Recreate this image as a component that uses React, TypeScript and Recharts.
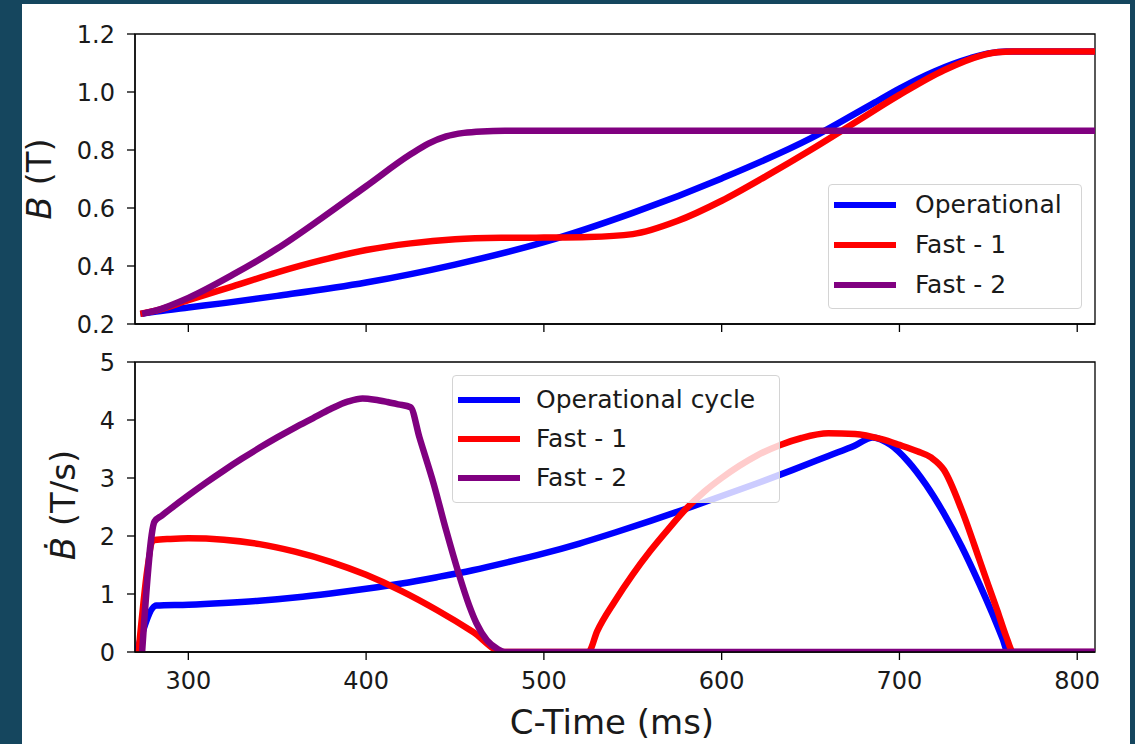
import React from "react";
import { LineChart, Line, XAxis, YAxis, ReferenceArea, Legend } from "recharts";

const FONT = "DejaVu Sans";
const INK = "#1a1a1a";
const COLORS = ["#0000ff", "#ff0000", "#800080"];

const TIME_TICKS = [300, 400, 500, 600, 700, 800];
const B_TICKS = [0.2, 0.4, 0.6, 0.8, 1.0, 1.2];
const BDOT_TICKS = [0, 1, 2, 3, 4, 5];

const TOP_NAMES = ["Operational", "Fast - 1", "Fast - 2"];
const BOTTOM_NAMES = ["Operational cycle", "Fast - 1", "Fast - 2"];

// field B (T) vs C-time (ms)
const OP_B_T = [273, 282, 300, 320, 350, 400, 450, 500, 550, 600, 650, 685, 700, 720, 740, 750, 760, 810];
const OP_B = [0.235, 0.243, 0.257, 0.272, 0.297, 0.343, 0.405, 0.482, 0.583, 0.702, 0.84, 0.96, 1.012, 1.072, 1.117, 1.133, 1.14, 1.14];

const F1_B_T = [273, 281, 300, 325, 350, 375, 400, 425, 450, 476, 500, 525, 550, 575, 600, 625, 650, 675, 700, 725, 745, 755, 764, 810];
const F1_B = [0.235, 0.245, 0.282, 0.33, 0.378, 0.42, 0.455, 0.478, 0.492, 0.497, 0.498, 0.5, 0.51, 0.555, 0.625, 0.71, 0.8, 0.895, 0.99, 1.075, 1.124, 1.137, 1.14, 1.14];

const F2_B_T = [274, 281, 300, 325, 350, 375, 400, 425, 435, 445, 455, 465, 478, 810];
const F2_B = [0.235, 0.245, 0.29, 0.37, 0.46, 0.565, 0.675, 0.785, 0.822, 0.847, 0.859, 0.864, 0.866, 0.866];

// ramp rate dB/dt (T/s)
const OP_D_T = [271, 282, 300, 320, 340, 360, 380, 400, 420, 440, 460, 480, 500, 520, 540, 560, 580, 600, 620, 640, 660, 675, 685, 695, 705, 715, 725, 735, 745, 752, 758, 761, 810];
const OP_D = [0, 0.8, 0.815, 0.845, 0.885, 0.94, 1.01, 1.09, 1.18, 1.29, 1.41, 1.55, 1.7, 1.87, 2.06, 2.26, 2.47, 2.69, 2.91, 3.14, 3.38, 3.56, 3.7, 3.57, 3.28, 2.88, 2.39, 1.82, 1.17, 0.68, 0.23, 0, 0];

const F1_D_T = [272, 281, 290, 300, 320, 340, 360, 380, 400, 420, 440, 460, 477, 525, 530, 540, 550, 560, 570, 580, 590, 600, 610, 620, 633, 645, 660, 675, 690, 700, 710, 718, 725, 735, 745, 750, 755, 760, 764, 810];
const F1_D = [0, 1.93, 1.95, 1.96, 1.935, 1.86, 1.73, 1.555, 1.33, 1.05, 0.72, 0.35, 0, 0, 0.36, 0.88, 1.34, 1.75, 2.12, 2.47, 2.76, 3.0, 3.21, 3.39, 3.57, 3.69, 3.77, 3.76, 3.67, 3.57, 3.46, 3.35, 3.14, 2.45, 1.59, 1.15, 0.72, 0.27, 0, 0];

const F2_D_T = [274, 281, 285, 290, 300, 310, 320, 330, 340, 350, 360, 370, 380, 390, 398, 405, 412, 418, 425, 430, 438, 445, 452, 458, 462, 468, 474, 478, 810];
const F2_D = [0, 2.25, 2.35, 2.47, 2.7, 2.92, 3.13, 3.33, 3.52, 3.7, 3.87, 4.03, 4.19, 4.32, 4.37, 4.35, 4.31, 4.27, 4.22, 3.7, 2.9, 2.1, 1.36, 0.8, 0.5, 0.2, 0.05, 0, 0];

const zip = (t: number[], v: number[]) => t.map((x, i) => ({ t: x, v: v[i] }));

const TOP_SERIES = [zip(OP_B_T, OP_B), zip(F1_B_T, F1_B), zip(F2_B_T, F2_B)];
const BOTTOM_SERIES = [zip(OP_D_T, OP_D), zip(F1_D_T, F1_D), zip(F2_D_T, F2_D)];

const axisStroke = { stroke: "#000", strokeWidth: 1.3 };
const tickStyle = { fill: INK, fontSize: 24, fontFamily: FONT };

function LegendBox({ names, width, height, firstRow, rowGap, textX }: any) {
  return (
    <div
      style={{
        position: "relative",
        width,
        height,
        boxSizing: "border-box",
        border: "1px solid #d4d4d4",
        borderRadius: 4,
        background: "rgba(255,255,255,0.8)",
        fontFamily: FONT,
        fontSize: 25,
        color: INK,
      }}
    >
      {names.map((n: string, i: number) => (
        <div key={n} style={{ position: "absolute", left: 0, top: firstRow + i * rowGap - 21, height: 40, width: "100%" }}>
          <div style={{ position: "absolute", left: 5, top: 17, width: 62, height: 6, background: COLORS[i] }} />
          <span style={{ position: "absolute", left: textX, top: 0, lineHeight: "40px", whiteSpace: "nowrap" }}>{n}</span>
        </div>
      ))}
    </div>
  );
}

export default function App() {
  return (
    <div style={{ position: "absolute", left: 0, top: 0, width: 1135, height: 744, background: "#15465e", overflow: "hidden" }}>
      <div style={{ position: "absolute", left: 22, top: 4, width: 1108, height: 740, background: "#fff" }} />

      <div style={{ position: "absolute", left: 0, top: 0 }}>
        <LineChart width={1135} height={346} margin={{ top: 34, right: 40, left: 0, bottom: 0 }} style={{ fontFamily: FONT }}>
          <XAxis
            dataKey="t"
            type="number"
            domain={[270, 810]}
            allowDataOverflow
            ticks={TIME_TICKS}
            interval={0}
            tick={() => <g />}
            tickSize={8}
            height={22}
            axisLine={axisStroke}
            tickLine={axisStroke}
          />
          <YAxis
            type="number"
            domain={[0.2, 1.2]}
            allowDataOverflow
            ticks={B_TICKS}
            interval={0}
            tickFormatter={(v: number) => v.toFixed(1)}
            width={135}
            tickSize={8}
            tickMargin={12}
            tick={tickStyle}
            axisLine={axisStroke}
            tickLine={axisStroke}
          />
          {TOP_SERIES.map((d, i) => (
            <Line
              key={TOP_NAMES[i]}
              data={d}
              dataKey="v"
              name={TOP_NAMES[i]}
              type="monotone"
              stroke={COLORS[i]}
              strokeWidth={6.5}
              dot={false}
              isAnimationActive={false}
            />
          ))}
          <ReferenceArea x1={270} x2={810} y1={0.2} y2={1.2} fill="none" stroke="#000" strokeWidth={1.3} />
          <Legend
            layout="horizontal"
            verticalAlign="middle"
            align="center"
            wrapperStyle={{ left: 828, top: 184, width: 254, height: 125 }}
            content={() => <LegendBox names={TOP_NAMES} width={254} height={125} firstRow={21} rowGap={40} textX={86} />}
          />
        </LineChart>
      </div>

      <div style={{ position: "absolute", left: 0, top: 340 }}>
        <LineChart width={1135} height={362} margin={{ top: 22, right: 40, left: 0, bottom: 0 }} style={{ fontFamily: FONT }}>
          <XAxis
            dataKey="t"
            type="number"
            domain={[270, 810]}
            allowDataOverflow
            ticks={TIME_TICKS}
            interval={0}
            tickSize={8}
            tickMargin={12}
            height={50}
            tick={tickStyle}
            axisLine={axisStroke}
            tickLine={axisStroke}
          />
          <YAxis
            type="number"
            domain={[0, 5]}
            allowDataOverflow
            ticks={BDOT_TICKS}
            interval={0}
            width={135}
            tickSize={8}
            tickMargin={12}
            tick={tickStyle}
            axisLine={axisStroke}
            tickLine={axisStroke}
          />
          {BOTTOM_SERIES.map((d, i) => (
            <Line
              key={BOTTOM_NAMES[i]}
              data={d}
              dataKey="v"
              name={BOTTOM_NAMES[i]}
              type="monotone"
              stroke={COLORS[i]}
              strokeWidth={6.5}
              dot={false}
              isAnimationActive={false}
            />
          ))}
          <ReferenceArea x1={270} x2={810} y1={0} y2={5} fill="none" stroke="#000" strokeWidth={1.3} />
          <Legend
            layout="horizontal"
            verticalAlign="middle"
            align="center"
            wrapperStyle={{ left: 452, top: 35, width: 328, height: 128 }}
            content={() => <LegendBox names={BOTTOM_NAMES} width={328} height={128} firstRow={25} rowGap={39} textX={83} />}
          />
        </LineChart>
      </div>

      <svg width={1135} height={744} style={{ position: "absolute", left: 0, top: 0, pointerEvents: "none" }} fontFamily={FONT}>
        <text x={612} y={734} textAnchor="middle" fontSize={34} fill={INK}>
          C-Time (ms)
        </text>
        <text transform="translate(51,179) rotate(-90)" textAnchor="middle" fontSize={34} fill={INK}>
          <tspan fontStyle="italic">B</tspan> (T)
        </text>
        <text transform="translate(75,505) rotate(-90)" textAnchor="middle" fontSize={34} fill={INK}>
          <tspan fontStyle="italic">Ḃ</tspan> (T/s)
        </text>
      </svg>
    </div>
  );
}
